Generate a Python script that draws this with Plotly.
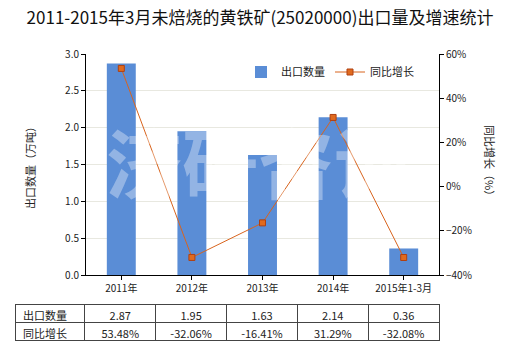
import plotly.graph_objects as go

categories = ["2011年", "2012年", "2013年", "2014年", "2015年1-3月"]
export_qty = [2.87, 1.95, 1.63, 2.14, 0.36]
growth = [53.48, -32.06, -16.41, 31.29, -32.08]
qty_labels = ["2.87", "1.95", "1.63", "2.14", "0.36"]
growth_labels = ["53.48%", "-32.06%", "-16.41%", "31.29%", "-32.08%"]

FONT = "Noto Sans CJK SC"
W, H = 520, 350
ML, MR, MT, MB = 15, 81, 54, 4
plot_w = W - ML - MR
plot_h = H - MT - MB
x0 = (86 - ML) / plot_w
ybot = (H - MB - 275) / plot_h
tbl_top = (H - MB - 304) / plot_h

fig = go.Figure()
fig.add_trace(go.Bar(
    x=categories, y=export_qty, name="出口数量",
    marker=dict(color="#5A8DD6", line=dict(width=0)),
    width=0.41, yaxis="y",
))
fig.add_trace(go.Scatter(
    x=categories, y=growth, name="同比增长", yaxis="y2",
    mode="lines+markers",
    line=dict(color="#D8641E", width=1),
    marker=dict(symbol="square", size=6, color="#E06A1E",
                line=dict(color="#B04010", width=1)),
))

fig.add_trace(go.Table(
    domain=dict(x=[0, 1], y=[0, tbl_top]),
    columnwidth=[70] + [71] * 5,
    header=dict(
        values=["出口数量"] + qty_labels,
        align=["left"] + ["center"] * 5,
        fill_color="white",
        line=dict(color="#444444", width=1),
        font=dict(family=FONT, size=11, color="#222222"),
        height=18,
    ),
    cells=dict(
        values=[["同比增长"]] + [[g] for g in growth_labels],
        align=["left"] + ["center"] * 5,
        fill_color="white",
        line=dict(color="#444444", width=1),
        font=dict(family=FONT, size=11, color="#222222"),
        height=18,
    ),
))

fig.update_layout(
    width=W, height=H,
    margin=dict(l=ML, r=MR, t=MT, b=MB, pad=0, autoexpand=False),
    paper_bgcolor="white", plot_bgcolor="white",
    font=dict(family=FONT, size=11, color="#333333"),
    title=dict(text="2011-2015年3月未焙烧的黄铁矿(25020000)出口量及增速统计",
               x=0.5, xref="container", xanchor="center",
               y=1 - 18 / H, yanchor="middle", yref="container",
               font=dict(family=FONT, size=17, color="#111111")),
    showlegend=True,
    legend=dict(orientation="h", x=(241 - ML) / plot_w, y=(H - MB - 72) / plot_h,
                xanchor="left", yanchor="middle",
                font=dict(family=FONT, size=11, color="#222222"),
                bgcolor="rgba(0,0,0,0)", traceorder="normal"),
    xaxis=dict(domain=[x0, 1], showline=True, linecolor="#000000", linewidth=1,
               ticks="outside", ticklen=4, tickcolor="#000000", automargin=False,
               tickfont=dict(size=10, color="#222222"), showgrid=False,
               anchor="y"),
    yaxis=dict(domain=[ybot, 1], range=[0, 3.0], dtick=0.5, tickformat=".1f",
               showline=True, linecolor="#000000", linewidth=1, automargin=False,
               ticks="outside", ticklen=4, tickcolor="#000000",
               gridcolor="#E8E8E0", gridwidth=1, zeroline=False,
               tickfont=dict(size=10, color="#222222")),
    yaxis2=dict(domain=[ybot, 1], range=[-40, 60], dtick=20, ticksuffix="%",
                overlaying="y", side="right", anchor="x", automargin=False,
                showline=True, linecolor="#000000", linewidth=1,
                ticks="outside", ticklen=4, tickcolor="#000000",
                showgrid=False, zeroline=False,
                tickfont=dict(size=10, color="#222222")),
    annotations=[
        dict(text="<b>济研咨询</b>", xref="paper", yref="paper",
             x=(258 - ML) / plot_w, y=(H - MB - 160) / plot_h,
             xanchor="center", yanchor="middle", showarrow=False,
             font=dict(family=FONT, size=76, color="rgba(255,255,255,0.35)")),
        dict(text="出口数量（万吨）", textangle=-90, xref="paper", yref="paper",
             x=(30 - ML) / plot_w, y=(H - MB - 165) / plot_h,
             xanchor="center", yanchor="middle", showarrow=False,
             font=dict(family=FONT, size=11, color="#222222")),
        dict(text="同比增长（%）", textangle=90, xref="paper", yref="paper",
             x=(490 - ML) / plot_w, y=(H - MB - 163) / plot_h,
             xanchor="center", yanchor="middle", showarrow=False,
             font=dict(family=FONT, size=11, color="#222222")),
    ],
)

fig.write_html("out.html")
